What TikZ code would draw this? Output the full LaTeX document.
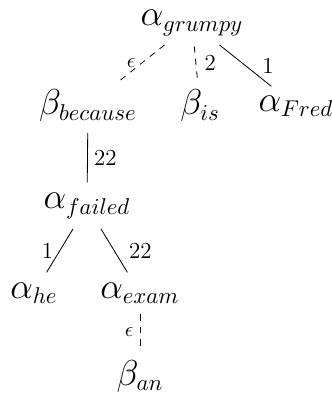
\documentclass[tikz,border=0pt]{standalone}
\usetikzlibrary{positioning}

\begin{document}
\begin{tikzpicture}[
    x=0.48pt, y=-0.48pt,
    tnode/.style={font=\fontsize{16}{19}\selectfont, inner sep=3pt},
    lbl/.style={font=\fontsize{11}{13}\selectfont, inner sep=3pt},
    eps/.style={font=\fontsize{10}{12}\selectfont, inner sep=3pt},
    link/.style={thin, shorten <=2pt, shorten >=2pt},
    adjoin/.style={link, dashed}
  ]
    \useasboundingbox (0,0) rectangle (331,394);

    \node[tnode] (grumpy)  at (192,23)  {$\alpha_{grumpy}$};
    \node[tnode] (because) at (88,106)  {$\beta_{because}$};
    \node[tnode] (is)      at (200,106) {$\beta_{is}$};
    \node[tnode] (fred)    at (296,106) {$\alpha_{Fred}$};
    \node[tnode] (failed)  at (87,206)  {$\alpha_{failed}$};
    \node[tnode] (he)      at (34,293)  {$\alpha_{he}$};
    \node[tnode] (exam)    at (140,293) {$\alpha_{exam}$};
    \node[tnode] (an)      at (140,376) {$\beta_{an}$};

    \draw[adjoin] (grumpy) -- node[eps, left] {$\epsilon$} (because);
    \draw[adjoin] (grumpy) -- node[lbl, right=1pt] {2} (is);
    \draw[link] (grumpy) -- node[lbl, right=5pt] {1} (fred);
    \draw[link] (because) -- node[lbl, right] {22} (failed);
    \draw[link] (failed) -- node[lbl, left] {1} (he);
    \draw[link] (failed) -- node[lbl, right=4pt] {22} (exam);
    \draw[adjoin] (exam) -- node[eps, left] {$\epsilon$} (an);
  \end{tikzpicture}
\end{document}
